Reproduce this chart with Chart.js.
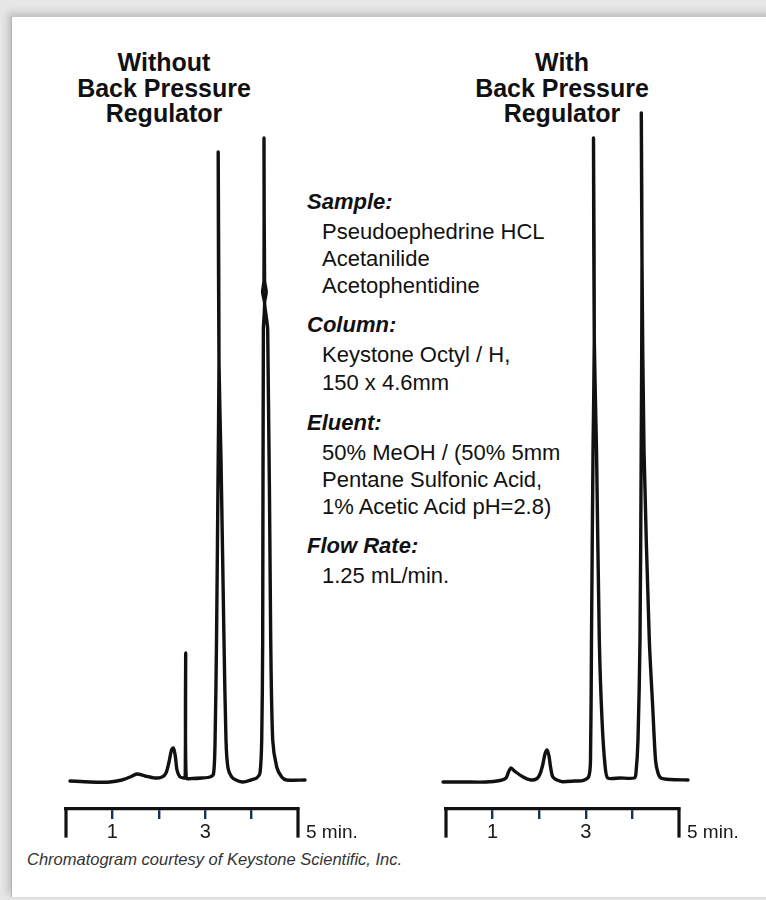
<!DOCTYPE html>
<html>
<head>
<meta charset="utf-8">
<script src="https://cdn.jsdelivr.net/npm/chart.js@4.4.1/dist/chart.umd.min.js"></script>
<style>
  html, body { margin: 0; padding: 0; }
  body { width: 766px; height: 900px; position: relative; overflow: hidden; background: #e6e6e6; font-family: 'Liberation Sans', Arial, sans-serif; color: #111; }
  .hoja { position: absolute; left: 11px; top: 16px; width: 800px; height: 880px; background: #fff;
          border-left: 1px solid #b5b5b5; border-top: 1px solid #c8c8c8; box-shadow: -3px -3px 7px rgba(0,0,0,.18); }
  canvas { position: absolute; left: 0; top: 0; }
  .titulo { position: absolute; width: 280px; text-align: center; font-weight: bold; font-size: 25px; line-height: 25.5px; top: 50px; }
  .l { position: absolute; font-size: 22px; line-height: 22px; white-space: nowrap; }
  .h { left: 307px; font-weight: bold; font-style: italic; }
  .b { left: 322px; }
  .pie { position: absolute; left: 27px; top: 851px; font-size: 16.5px; line-height: 16px; font-style: italic; color: #333; }
</style>
</head>
<body>
<div class="hoja"></div>

<div class="titulo" style="left:24px">Without<br>Back Pressure<br>Regulator</div>
<div class="titulo" style="left:422px">With<br>Back Pressure<br>Regulator</div>

<div class="l h" style="top:191px">Sample:</div>
<div class="l b" style="top:221px">Pseudoephedrine HCL</div>
<div class="l b" style="top:248px">Acetanilide</div>
<div class="l b" style="top:275px">Acetophentidine</div>
<div class="l h" style="top:314px">Column:</div>
<div class="l b" style="top:344px">Keystone Octyl / H,</div>
<div class="l b" style="top:372px">150 x 4.6mm</div>
<div class="l h" style="top:412px">Eluent:</div>
<div class="l b" style="top:442px">50% MeOH / (50% 5mm</div>
<div class="l b" style="top:469px">Pentane Sulfonic Acid,</div>
<div class="l b" style="top:496px">1% Acetic Acid pH=2.8)</div>
<div class="l h" style="top:535px">Flow Rate:</div>
<div class="l b" style="top:565px">1.25 mL/min.</div>

<div class="pie">Chromatogram courtesy of Keystone Scientific, Inc.</div>

<canvas id="sin-regulador" width="766" height="900"></canvas>
<canvas id="con-regulador" width="766" height="900"></canvas>

<script>
'use strict';
/* Cromatogramas con y sin regulador de contrapresión */

// ── Datos (tiempo en min, respuesta en unidades relativas) ──
const withoutTime = [0.086, 0.517, 0.948, 1.207, 1.379, 1.530, 1.703, 1.918, 2.069, 2.155,
  2.220, 2.274, 2.313, 2.356, 2.392, 2.457, 2.543, 2.569, 2.580, 2.591,
  2.716, 2.931, 3.103, 3.179, 3.211, 3.244, 3.276, 3.297, 3.280, 3.297,
  3.341, 3.405, 3.448, 3.491, 3.571, 3.685, 3.815, 3.987, 4.110, 4.181,
  4.218, 4.239, 4.254, 4.280, 4.237, 4.267, 4.267, 4.280, 4.315, 4.280,
  4.347, 4.412, 4.455, 4.541, 4.649, 4.756, 5.151];
const withoutSignal = [-1, -2, -2, 0, 3, 6, 4, 2, 3, 7,
  18, 30, 32, 24, 10, 3, 2, 2, 127, 2,
  1.5, 2, 3, 6, 35, 140, 300, 418, 628, 418,
  320, 140, 40, 12, 3, -0.5, -2, 0, 2, 7,
  40, 140, 450, 477, 488, 499, 642, 499, 488, 477,
  450, 140, 40, 13, 3, 0, 0];

const withTime = [-0.064, 0.408, 0.858, 1.159, 1.288, 1.341, 1.395, 1.481, 1.646, 1.824,
  1.953, 2.017, 2.075, 2.124, 2.167, 2.210, 2.247, 2.290, 2.382, 2.504,
  2.768, 2.933, 3.062, 3.101, 3.122, 3.155, 3.182, 3.165, 3.182, 3.230,
  3.290, 3.348, 3.412, 3.470, 3.734, 4.041, 4.077, 4.120, 4.163, 4.189,
  4.206, 4.191, 4.206, 4.249, 4.363, 4.436, 4.496, 4.549, 4.614, 4.807, 5.193];
const withSignal = [-2, -2, -2, -0.5, 2, 8, 12, 8.5, 3.3, 0,
  1.5, 6, 15, 26, 30, 24, 12, 3.3, 0, -1.7,
  -1, -0.7, 3.3, 20, 140, 330, 440, 642, 440, 330,
  140, 60, 15, 2, 2, 2, 7, 40, 140, 330,
  518, 667, 518, 330, 140, 73, 20, 7, 2, 0.5, 0];

const tickLabels = ['', '1', '', '3', '', ''];
const unitLabel = '5 min.';

// ── Estilo ──────────────────────────────────────────
const NEGRO = '#111';
const AZUL = '#17305f';
const FUENTE = "'Liberation Sans', Arial, sans-serif";

// Extremos de la barra de tiempo + leyenda "5 min."
const barraTiempo = {
  id: 'barraTiempo',
  afterDraw(chart) {
    const { ctx, chartArea, scales: { x } } = chart;
    const y0 = chartArea.bottom;
    ctx.save();
    ctx.strokeStyle = NEGRO;
    ctx.lineWidth = 3.2;
    ctx.lineCap = 'square';
    [x.min, x.max].forEach(v => {
      const px = x.getPixelForValue(v);
      ctx.beginPath();
      ctx.moveTo(px, y0);
      ctx.lineTo(px, y0 + 27);
      ctx.stroke();
    });
    ctx.fillStyle = '#1a1a1a';
    ctx.font = '19px ' + FUENTE;
    ctx.textBaseline = 'alphabetic';
    ctx.fillText(unitLabel, x.getPixelForValue(x.max) + 8, y0 + 29);
    ctx.restore();
  },
};

function cromatograma(id, tiempos, senal, padIzq, padDer) {
  return new Chart(document.getElementById(id), {
    type: 'scatter',
    data: {
      datasets: [{
        data: tiempos.map((t, i) => ({ x: t, y: senal[i] })),
        showLine: true,
        borderColor: NEGRO,
        borderWidth: 3.4,
        borderJoinStyle: 'round',
        borderCapStyle: 'round',
        tension: 0.25,
        pointRadius: 0,
        clip: false,
      }],
    },
    options: {
      responsive: false,
      animation: false,
      events: [],
      layout: { padding: { top: 100, bottom: 0, left: padIzq, right: padDer } },
      plugins: { legend: { display: false }, tooltip: { enabled: false } },
      scales: {
        x: {
          type: 'linear', min: 0, max: 5,
          afterFit: s => { s.height = 91; },
          border: { display: true, color: NEGRO, width: 3.2 },
          grid: {
            drawOnChartArea: false, drawTicks: true, tickLength: 10, lineWidth: 2.4,
            color: c => (c.tick && (c.tick.value === 0 || c.tick.value === 5)) ? 'rgba(0,0,0,0)' : AZUL,
          },
          ticks: {
            stepSize: 1, padding: 1, maxRotation: 0, autoSkip: false,
            color: '#1a1a1a', font: { family: FUENTE, size: 20 },
            callback: v => tickLabels[v] ?? '',
          },
        },
        y: { display: false, min: -29, max: 680 },
      },
    },
    plugins: [barraTiempo],
  });
}

cromatograma('sin-regulador', withoutTime, withoutSignal, 66, 468);
cromatograma('con-regulador', withTime, withSignal, 446, 87);
</script>
</body>
</html>
